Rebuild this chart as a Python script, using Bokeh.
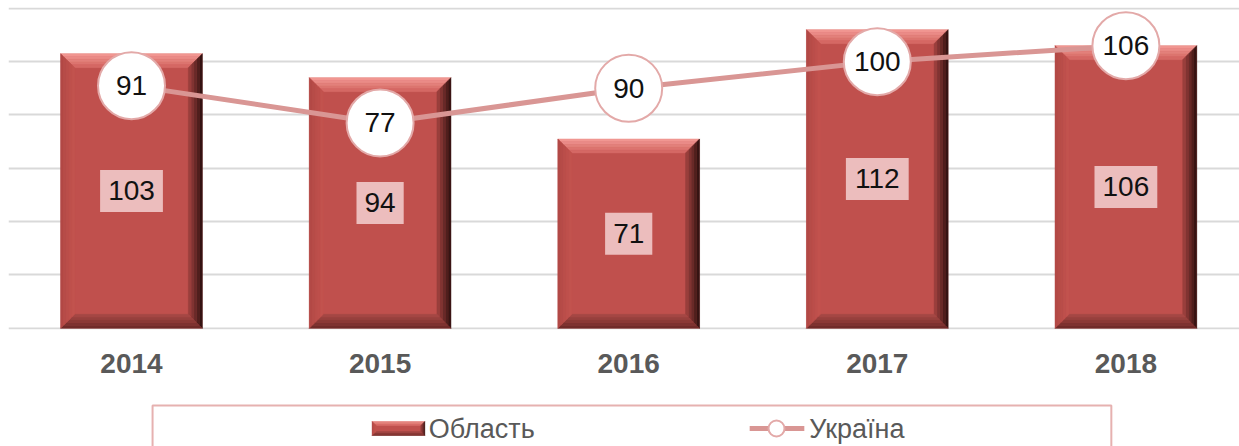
from bokeh.plotting import figure
from bokeh.models import Range1d, FixedTicker, ColumnDataSource
from bokeh.layouts import column
from bokeh.embed import file_html
from bokeh.resources import INLINE
from bokeh.core.properties import value

years = ["2014", "2015", "2016", "2017", "2018"]
oblast = [103, 94, 71, 112, 106]
ukraina = [91, 77, 90, 100, 106]
y_ticks = [0, 20, 40, 60, 80, 100, 120]

FONT = "Liberation Sans"
BAR = "#c0504d"

x = list(range(len(years)))

p = figure(width=1239, height=397, output_backend="svg", toolbar_location=None,
           x_range=Range1d(-0.4948, 4.457), y_range=Range1d(-0.45, 120.3),
           min_border_left=8, min_border_right=0, min_border_top=7, min_border_bottom=68)
p.outline_line_color = None
p.yaxis.visible = False
p.xgrid.visible = False
p.yaxis.ticker = FixedTicker(ticks=y_ticks)
p.ygrid.grid_line_color = "#d9d9d9"
p.ygrid.grid_line_width = 2

ax = p.xaxis[0]
ax.ticker = FixedTicker(ticks=x)
ax.major_label_overrides = {i: y for i, y in enumerate(years)}
ax.axis_line_color = None
ax.major_tick_line_color = None
ax.minor_tick_line_color = None
ax.major_label_standoff = 18
ax.major_label_text_font = FONT
ax.major_label_text_font_size = "28px"
ax.major_label_text_font_style = "bold"
ax.major_label_text_color = "#595959"

# bars with bevel
hw = 0.285
bx = 14 / 248.6
by = 14 / 2.667

p.vbar(x=x, top=oblast, width=2 * hw, fill_color=BAR, line_color=None)

def lerp(c1, c2, t):
    a = [int(c1[i:i + 2], 16) for i in (1, 3, 5)]
    b = [int(c2[i:i + 2], 16) for i in (1, 3, 5)]
    return "#%02x%02x%02x" % tuple(int(round(a[k] + (b[k] - a[k]) * t)) for k in range(3))

def bevel_patches(cx, top, bot, hwid, bxx, byy, n=5):
    xs, ys, cs = [], [], []
    L, R, T, B = cx - hwid, cx + hwid, top, bot
    sides = {
        "top": ("#f49d98", "#d2625e"),
        "right": ("#2a0f0e", "#a54441"),
        "bottom": ("#6a2826", "#aa4a47"),
        "left": ("#b04845", "#c4544f"),
    }
    for k in range(n):
        a, b = k / n, (k + 1) / n
        t = (k + 0.5) / n
        xs.append([L + a * bxx, R - a * bxx, R - b * bxx, L + b * bxx])
        ys.append([T - a * byy, T - a * byy, T - b * byy, T - b * byy])
        cs.append(lerp(*sides["top"], t))
        xs.append([R - a * bxx, R - a * bxx, R - b * bxx, R - b * bxx])
        ys.append([T - a * byy, B + a * byy, B + b * byy, T - b * byy])
        cs.append(lerp(*sides["right"], t))
        xs.append([L + a * bxx, R - a * bxx, R - b * bxx, L + b * bxx])
        ys.append([B + a * byy, B + a * byy, B + b * byy, B + b * byy])
        cs.append(lerp(*sides["bottom"], t))
        xs.append([L + a * bxx, L + b * bxx, L + b * bxx, L + a * bxx])
        ys.append([T - a * byy, T - b * byy, B + b * byy, B + a * byy])
        cs.append(lerp(*sides["left"], t))
    return xs, ys, cs

all_xs, all_ys, all_cs = [], [], []
for xi, v in zip(x, oblast):
    a, b, c = bevel_patches(xi, v, 0, hw, bx, by)
    all_xs += a; all_ys += b; all_cs += c
p.patches(xs=all_xs, ys=all_ys, fill_color=all_cs, line_color=all_cs, line_width=0.5)

# bar labels
lab_src = ColumnDataSource(dict(
    x=x, y=[v / 2 for v in oblast], t=[str(v) for v in oblast],
    w=[16 + 15.6 * len(str(v)) for v in oblast]))
p.rect(x="x", y="y", width="w", height=42, width_units="screen", height_units="screen",
       source=lab_src, fill_color="#ecbdbd", line_color=None)
p.text(x="x", y="y", text="t", source=lab_src, text_align="center", text_baseline="middle",
       text_font=value(FONT), text_font_size="28px", text_color="#111111")

# Ukraine line
p.line(x=x, y=ukraina, line_color="#d99694", line_width=5)
p.scatter(x=x, y=ukraina, marker="circle", size=67, fill_color="white",
          line_color="#e3a9a8", line_width=2)
p.text(x=x, y=ukraina, text=[str(v) for v in ukraina], text_align="center",
       text_baseline="middle", text_font=value(FONT), text_font_size="28px",
       text_color="#111111")

# legend figure
lg = figure(width=1239, height=49, output_backend="svg", toolbar_location=None,
            x_range=Range1d(0, 1239), y_range=Range1d(0, 49),
            min_border=0)
lg.outline_line_color = None
lg.axis.visible = False
lg.grid.visible = False
lg.quad(left=[145], right=[1110], top=[41], bottom=[-20], fill_color=None,
        line_color="#e6b1b0", line_width=2)

# Oblast icon
ixs, iys, ics = bevel_patches(392.5, 25, 11, 26.5, 4, 4, n=3)
lg.rect(x=[392.5], y=[18], width=53, height=14, fill_color=BAR, line_color=None)
lg.patches(xs=ixs, ys=iys, fill_color=ics, line_color=ics, line_width=0.5)
lg.text(x=[423], y=[18], text=["Область"], text_baseline="middle",
        text_font=value(FONT), text_font_size="27px", text_color="#595959")

# Ukraine icon
lg.line(x=[746, 801], y=[18, 18], line_color="#d99694", line_width=5)
lg.scatter(x=[773], y=[18], marker="circle", size=16, fill_color="white",
           line_color="#e3a9a8", line_width=2)
lg.text(x=[806], y=[18], text=["Україна"], text_baseline="middle",
        text_font=value(FONT), text_font_size="27px", text_color="#595959")

layout = column(p, lg, spacing=0)
open("out.html", "w").write(file_html(layout, INLINE))
